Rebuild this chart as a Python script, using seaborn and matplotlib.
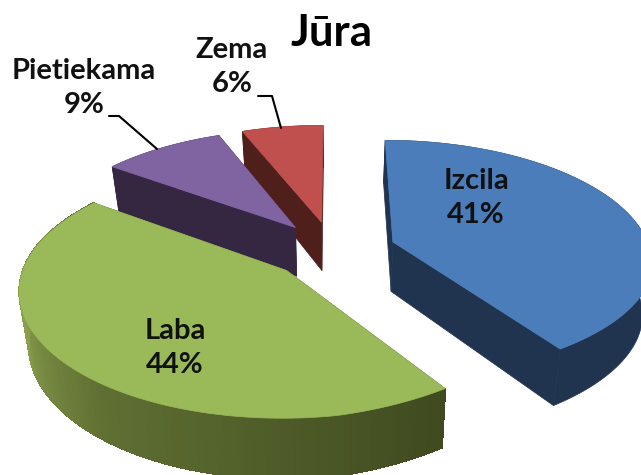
import numpy as np
import matplotlib
matplotlib.use('Agg')
import matplotlib.pyplot as plt
from matplotlib.patches import Polygon
import seaborn as sns

# Chart data
categories = ['Izcila', 'Laba', 'Pietiekama', 'Zema']
values = [41, 44, 9, 6]
top_colors = ['#4a7dba', '#9aba59', '#8064a2', '#bf504d']
wall_left = ['#20344f', '#8ba14e', '#352741', '#4f1f1c']
wall_right = ['#20344f', '#3f4a1f', '#352741', '#4f1f1c']

# Layout of the 3D pie, in pixels of the picture
CX, CY = 333, 250
RX, RY = 257, 119
PERSP = 0.149
EXPLODE = 0.245
DEPTH = 50
BASE_SHRINK = 0.97
FRONT_SKEW = 4
FRONT_TILT = 9

sns.set_theme(style='white')
plt.rcParams['font.family'] = ['Lato', 'DejaVu Sans']


def project(u, v, drop=0.0):
    # ground plane -> screen, v grows towards the viewer
    u = np.asarray(u, dtype=float)
    v = np.asarray(v, dtype=float)
    s = 1 / (1 - PERSP * v)
    x = RX * u * s
    y = RY * v * s
    if drop > 0:
        x = x * BASE_SHRINK
    # small correction of the front part of the picture
    front = np.clip(v, 0, None)
    x = x + FRONT_SKEW * front
    y = y - FRONT_TILT * np.clip(u, 0, None) * front
    return CX + x, CY + y + drop * DEPTH * s


def slice_points(a0, a1, off_u, off_v, drop=0.0, n=120):
    ang = np.linspace(a0, a1, n)
    return project(np.sin(ang) + off_u, -np.cos(ang) + off_v, drop)


fig = plt.figure(figsize=(6.41, 4.75), dpi=100)
ax = fig.add_axes([0, 0, 1, 1])
ax.set_xlim(0, 641)
ax.set_ylim(475, 0)
ax.axis('off')

# -----------------------------
# Slices, clockwise from 12 o'clock
# -----------------------------
edges = np.cumsum([0] + values) / sum(values) * 2 * np.pi
draw_order = [3, 2, 0, 1]

for i in draw_order:
    a0, a1 = edges[i], edges[i + 1]
    mid = (a0 + a1) / 2
    off_u, off_v = EXPLODE * np.sin(mid), -EXPLODE * np.cos(mid)
    ax_top = project(off_u, off_v)
    ax_low = project(off_u, off_v, 1.0)

    xt, yt = slice_points(a0, a1, off_u, off_v)
    xb, yb = slice_points(a0, a1, off_u, off_v, 1.0)
    order = np.argsort(xt)
    shades = sns.blend_palette([wall_left[i], wall_right[i]], len(xt))
    rank = np.empty(len(xt), dtype=int)
    rank[order] = np.arange(len(xt))
    z = 2 + draw_order.index(i) * 3

    # the two cut faces
    for k in (0, -1):
        face = [ax_top, (xt[k], yt[k]), (xb[k], yb[k]), ax_low]
        ax.add_patch(Polygon(face, closed=True, fc=wall_right[i], ec=wall_right[i],
                             lw=0.5, zorder=z))

    # outer wall: solid base, then one strip per arc step for the shade
    base = np.column_stack([np.r_[xt, xb[::-1]], np.r_[yt, yb[::-1]]])
    ax.add_patch(Polygon(base, closed=True, fc=wall_right[i], ec=wall_right[i],
                         lw=0.5, zorder=z + 1))
    if wall_left[i] != wall_right[i]:
        for k in range(len(xt) - 1):
            strip = [(xt[k], yt[k]), (xt[k + 1], yt[k + 1]),
                     (xb[k + 1], yb[k + 1]), (xb[k], yb[k])]
            c = shades[rank[k]]
            ax.add_patch(Polygon(strip, closed=True, fc=c, ec=c, lw=0.8,
                                 antialiased=False, zorder=z + 1))

    # top face
    top = np.column_stack([np.r_[ax_top[0], xt], np.r_[ax_top[1], yt]])
    ax.add_patch(Polygon(top, closed=True, fc=top_colors[i], ec=top_colors[i],
                         lw=0.5, zorder=z + 2))

# -----------------------------
# Labels and leader lines
# -----------------------------
label_xy = [(476, 198), (175, 348), (84, 88), (232, 67)]
for name, val, (lx, ly) in zip(categories, values, label_xy):
    ax.text(lx, ly, f'{name}\n{val}%', ha='center', va='center', fontsize=21,
            fontweight='bold', color='#111111', linespacing=1.42, zorder=30)

ax.plot([109, 119, 157], [116, 116, 149], color='black', lw=1.5, zorder=30)
ax.plot([258, 272, 281], [96, 96, 128], color='black', lw=1.5, zorder=30)

ax.text(331, 33, 'Jūra', ha='center', va='center', fontsize=31.5,
        fontweight='bold', color='black', zorder=30)

fig.savefig('out.png', dpi=100, facecolor='white')
